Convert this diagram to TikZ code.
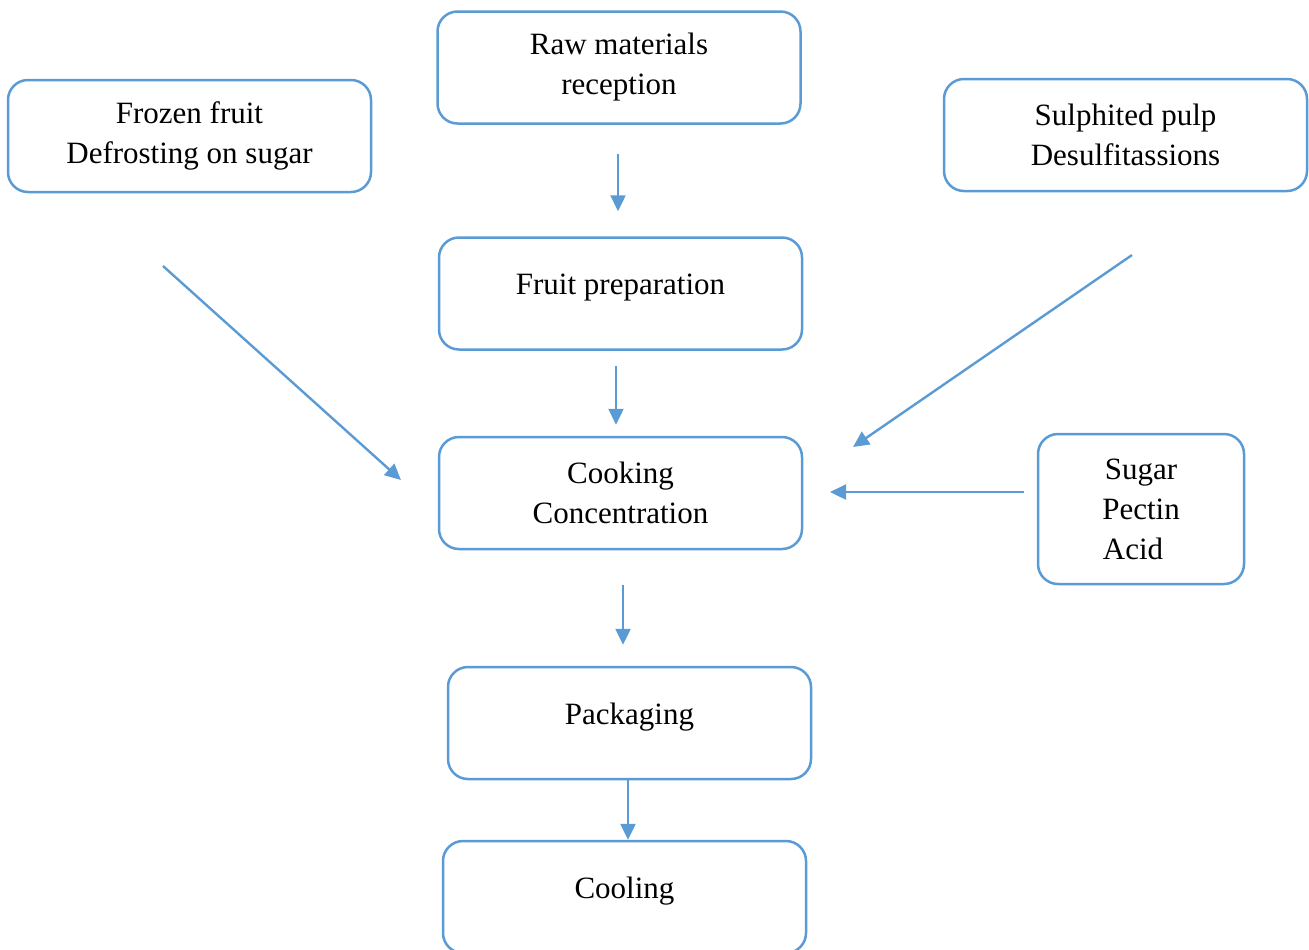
\documentclass[tikz,border=0pt]{standalone}
\usepackage{fontspec}
\setmainfont{Liberation Serif}
\usetikzlibrary{arrows.meta}

\definecolor{lineblue}{HTML}{5B9BD5}

\begin{document}
\begin{tikzpicture}[x=0.5pt, y=-0.5pt,
    box/.style={draw=lineblue, line width=1.25pt, rounded corners=10pt,
        align=center, minimum width=181.5pt, minimum height=56pt,
        font=\fontsize{15.5pt}{20pt}\selectfont},
    flow/.style={draw=lineblue, line width=1.2pt, -{Triangle[length=8pt,width=7.5pt]}}]

        \useasboundingbox (0, 0) rectangle (1309, 949);

        % Declare the boxes
        \node[box] at (619, 67.5) (raw) {Raw materials\\reception};
        \node[box] at (189.5, 136) (frozen) {Frozen fruit\\Defrosting on sugar};
        \node[box] at (1125.5, 135) (sulph) {Sulphited pulp\\Desulfitassions};
        \node[box, text depth=9pt] at (620.5, 293.5) (prep) {Fruit preparation};
        \node[box] at (620.5, 493) (cook) {Cooking\\Concentration};
        \node[box, minimum width=103pt, minimum height=75pt] at (1141, 509) (sugar) {Sugar\\Pectin\\Acid\hspace*{8pt}};
        \node[box, text depth=9pt] at (629.5, 723) (pack) {Packaging};
        \node[box, text depth=9pt] at (624.5, 897) (cool) {Cooling};

        % Declare arrow starts
        \coordinate (r1) at ([xshift=-0.5pt]raw.south);
        \coordinate (p1) at ([xshift=-2.25pt]prep.south);
        \coordinate (c1) at ([xshift=1.25pt]cook.south);
        \coordinate (k1) at ([xshift=-0.75pt]pack.south);

        % Declare free arrow ends
        \coordinate (f1) at (163, 266);
        \coordinate (f2) at (401, 480);
        \coordinate (s1) at (1132, 255);
        \coordinate (s2) at (853, 447);
        \coordinate (g1) at (1024, 492);
        \coordinate (g2) at (830, 492);

        % Declare edges
        \draw[flow, shorten <=14.5pt, shorten >=12.5pt] (r1) -- (r1 |- prep.north);
        \draw[flow, shorten <=7.5pt, shorten >=5.5pt] (p1) -- (p1 |- cook.north);
        \draw[flow, shorten <=17.5pt, shorten >=10.5pt] (c1) -- (c1 |- pack.north);
        \draw[flow] (k1) -- (k1 |- cool.north);

        % Declare side inputs
        \draw[flow] (f1) -- (f2);
        \draw[flow] (s1) -- (s2);
        \draw[flow] (g1) -- (g2);

    \end{tikzpicture}
\end{document}
